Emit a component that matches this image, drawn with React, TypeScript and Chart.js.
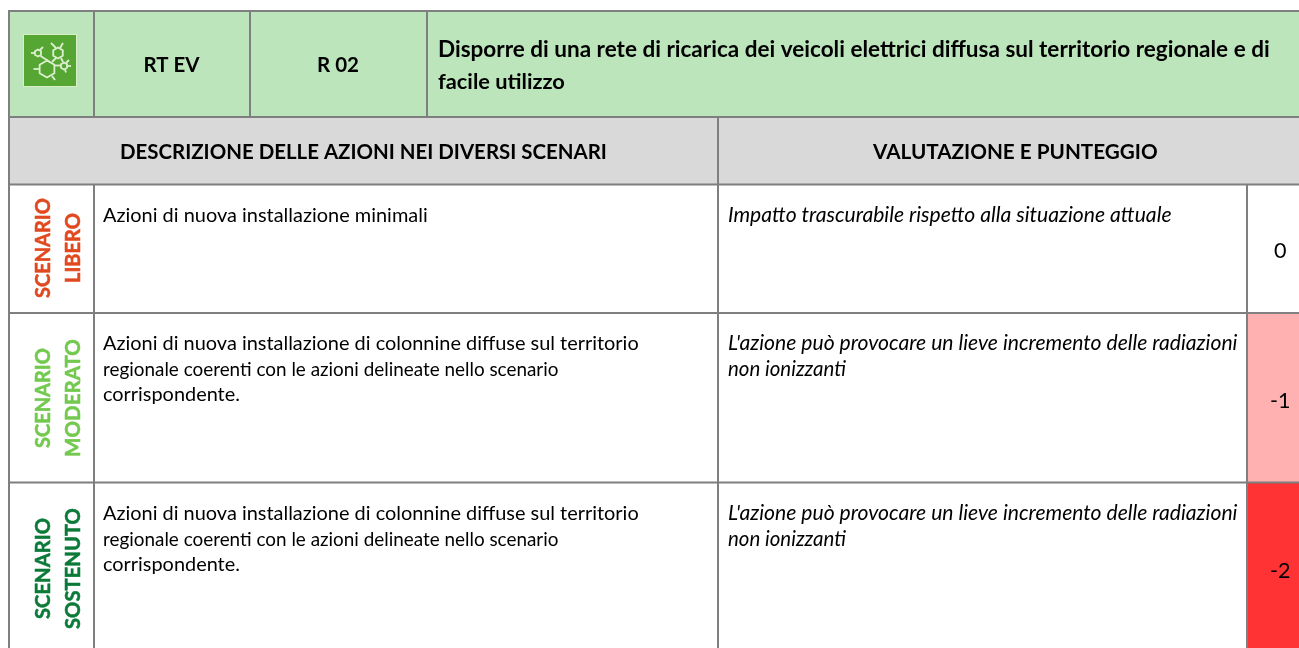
import React, { useEffect, useRef } from "react";
import { Chart, registerables } from "chart.js";

Chart.register(...registerables);

const FONT = "Lato";
const BORDER = "#7f7f7f";

const headerCode = "RT EV";
const headerRisk = "R 02";
const headerTitle = [
  "Disporre di una rete di ricarica dei veicoli elettrici diffusa sul territorio regionale e di",
  "facile utilizzo",
];
const sectionLeft = "DESCRIZIONE DELLE AZIONI NEI DIVERSI SCENARI";
const sectionRight = "VALUTAZIONE E PUNTEGGIO";
const scenarioNames = [
  ["SCENARIO", "LIBERO"],
  ["SCENARIO", "MODERATO"],
  ["SCENARIO", "SOSTENUTO"],
];
const scenarioColors = ["#e0491f", "#72c94e", "#0b7a38"];
const actionLines = [
  ["Azioni di nuova installazione minimali"],
  [
    "Azioni di nuova installazione di colonnine diffuse sul territorio",
    "regionale coerenti con le azioni delineate nello scenario",
    "corrispondente.",
  ],
  [
    "Azioni di nuova installazione di colonnine diffuse sul territorio",
    "regionale coerenti con le azioni delineate nello scenario",
    "corrispondente.",
  ],
];
const evalLines = [
  ["Impatto trascurabile rispetto alla situazione attuale"],
  ["L'azione può provocare un lieve incremento delle radiazioni", "non ionizzanti"],
  ["L'azione può provocare un lieve incremento delle radiazioni", "non ionizzanti"],
];
const scores = ["0", "-1", "-2"];
const scoreColors = ["#ffffff", "#ffb0b0", "#ff3333"];

// table layout, in the scale's units
const X = { left: 9, code: 94, risk: 250, title: 427, split: 718, score: 1247, right: 1299 };
const Y = { top: 11, head: 117, sect: 184.5, r1: 313, r2: 482.5, bottom: 648 };

const fills = [
  { x0: X.left, x1: X.right, y0: Y.top, y1: Y.head, c: "#bde5bc" },
  { x0: X.left, x1: X.right, y0: Y.head, y1: Y.sect, c: "#d9d9d9" },
  { x0: X.score, x1: X.right, y0: Y.sect, y1: Y.r1, c: scoreColors[0] },
  { x0: X.score, x1: X.right, y0: Y.r1, y1: Y.r2, c: scoreColors[1] },
  { x0: X.score, x1: X.right, y0: Y.r2, y1: Y.bottom, c: scoreColors[2] },
];

const gridSegments = [
  [X.left, Y.top, X.right, Y.top],
  [X.left, Y.head, X.right, Y.head],
  [X.left, Y.sect, X.right, Y.sect],
  [X.left, Y.r1, X.right, Y.r1],
  [X.left, Y.r2, X.right, Y.r2],
  [X.left, Y.top, X.left, Y.bottom],
  [X.code, Y.top, X.code, Y.head],
  [X.risk, Y.top, X.risk, Y.head],
  [X.title, Y.top, X.title, Y.head],
  [X.code, Y.sect, X.code, Y.bottom],
  [X.split, Y.head, X.split, Y.bottom],
  [X.score, Y.sect, X.score, Y.bottom],
];

type T = { s: string; x: number; y: number; w: number; weight?: string; style?: string; color?: string; rot?: boolean };

const texts: T[] = [
  { s: headerCode, x: 143.5, y: 71.5, w: 56, weight: "bold" },
  { s: headerRisk, x: 317, y: 71.5, w: 42, weight: "bold" },
  { s: headerTitle[0], x: 438, y: 57, w: 832, weight: "bold" },
  { s: headerTitle[1], x: 438, y: 89, w: 127, weight: "bold" },
  { s: sectionLeft, x: 120, y: 158.5, w: 487, weight: "bold" },
  { s: sectionRight, x: 873, y: 158.5, w: 285, weight: "bold" },
  { s: actionLines[0][0], x: 103, y: 221.5, w: 325 },
  { s: actionLines[1][0], x: 103, y: 350, w: 536 },
  { s: actionLines[1][1], x: 103, y: 375.5, w: 456 },
  { s: actionLines[1][2], x: 103, y: 401, w: 137 },
  { s: actionLines[2][0], x: 103, y: 520, w: 536 },
  { s: actionLines[2][1], x: 103, y: 545.5, w: 456 },
  { s: actionLines[2][2], x: 103, y: 571, w: 137 },
  { s: evalLines[0][0], x: 728, y: 221.5, w: 444, style: "italic" },
  { s: evalLines[1][0], x: 728, y: 350, w: 510, style: "italic" },
  { s: evalLines[1][1], x: 728, y: 375.5, w: 118, style: "italic" },
  { s: evalLines[2][0], x: 728, y: 520, w: 510, style: "italic" },
  { s: evalLines[2][1], x: 728, y: 545.5, w: 118, style: "italic" },
  { s: scores[0], x: 1274, y: 258, w: 12.5 },
  { s: scores[1], x: 1270, y: 408, w: 20.5 },
  { s: scores[2], x: 1270, y: 578, w: 20.5 },
  { s: scenarioNames[0][0], x: 50, y: 298, w: 100, weight: "bold", color: scenarioColors[0], rot: true },
  { s: scenarioNames[0][1], x: 80, y: 283, w: 70, weight: "bold", color: scenarioColors[0], rot: true },
  { s: scenarioNames[1][0], x: 50, y: 448, w: 100, weight: "bold", color: scenarioColors[1], rot: true },
  { s: scenarioNames[1][1], x: 80, y: 457, w: 118, weight: "bold", color: scenarioColors[1], rot: true },
  { s: scenarioNames[2][0], x: 50, y: 619, w: 101, weight: "bold", color: scenarioColors[2], rot: true },
  { s: scenarioNames[2][1], x: 80, y: 629, w: 121, weight: "bold", color: scenarioColors[2], rot: true },
];

// molecule glyph, in the scale's units
const iconBox = { x0: 23.5, y0: 34.5, x1: 76.5, y1: 86.5 };
const iconRings = [
  { x: 47, y: 69, r: 8.5 },
  { x: 58, y: 53, r: 5.5 },
  { x: 38, y: 53, r: 3.5 },
  { x: 64, y: 66, r: 3.5 },
];
const iconBonds = [
  [31, 53, 34.5, 53], [40, 50, 43, 47], [40.5, 56, 50, 62],
  [52, 62, 56, 58], [56, 48, 51, 43], [60, 48, 63, 43],
  [61, 58, 63, 62], [66, 63, 69, 60], [67.5, 66, 71, 66], [65, 69.5, 66, 72.5],
  [39.5, 69, 33.5, 69], [52, 76, 55, 80], [55, 65.5, 60.5, 65.5],
];

const tablePlugin = {
  id: "tableCells",
  beforeDatasetsDraw(chart: any) {
    const { ctx, scales } = chart;
    const px = (v: number) => scales.x.getPixelForValue(v);
    const py = (v: number) => scales.y.getPixelForValue(v);
    ctx.save();
    ctx.fillStyle = "#ffffff";
    ctx.fillRect(0, 0, chart.width, chart.height);
    for (const f of fills) {
      ctx.fillStyle = f.c;
      ctx.fillRect(px(f.x0), py(f.y0), px(f.x1) - px(f.x0), py(f.y1) - py(f.y0));
    }
    ctx.restore();
  },
  afterDatasetsDraw(chart: any) {
    const { ctx, scales } = chart;
    const px = (v: number) => scales.x.getPixelForValue(v);
    const py = (v: number) => scales.y.getPixelForValue(v);
    ctx.save();
    // icon
    ctx.fillStyle = "#56a633";
    ctx.strokeStyle = "#d8efc8";
    ctx.lineWidth = 1;
    ctx.fillRect(px(iconBox.x0), py(iconBox.y0), iconBox.x1 - iconBox.x0, iconBox.y1 - iconBox.y0);
    ctx.strokeRect(px(iconBox.x0), py(iconBox.y0), iconBox.x1 - iconBox.x0, iconBox.y1 - iconBox.y0);
    ctx.strokeStyle = "#dcf0d0";
    ctx.lineWidth = 1.8;
    for (const r of iconRings) {
      ctx.beginPath();
      for (let i = 0; i < 6; i++) {
        const a = (Math.PI / 3) * i + Math.PI / 6;
        const hx = px(r.x) + r.r * Math.cos(a);
        const hy = py(r.y) + r.r * Math.sin(a);
        if (i === 0) ctx.moveTo(hx, hy);
        else ctx.lineTo(hx, hy);
      }
      ctx.closePath();
      ctx.stroke();
    }
    for (const b of iconBonds) {
      ctx.beginPath();
      ctx.moveTo(px(b[0]), py(b[1]));
      ctx.lineTo(px(b[2]), py(b[3]));
      ctx.stroke();
    }
    // text, sized so that each line has its measured length
    ctx.textBaseline = "alphabetic";
    ctx.textAlign = "left";
    for (const t of texts) {
      const prefix = `${t.style || "normal"} ${t.weight || "normal"}`;
      ctx.font = `${prefix} 100px ${FONT}`;
      const size = (100 * t.w) / ctx.measureText(t.s).width;
      ctx.font = `${prefix} ${size}px ${FONT}`;
      ctx.fillStyle = t.color || "#000000";
      ctx.save();
      ctx.translate(px(t.x), py(t.y));
      if (t.rot) {
        ctx.rotate(-Math.PI / 2);
        ctx.strokeStyle = ctx.fillStyle;
        ctx.lineWidth = 0.5;
        ctx.strokeText(t.s, 0, 0);
      }
      ctx.fillText(t.s, 0, 0);
      ctx.restore();
    }
    ctx.restore();
  },
};

export default function App() {
  const ref = useRef<HTMLCanvasElement | null>(null);
  useEffect(() => {
    document.body.style.margin = "0";
    document.body.style.overflow = "hidden";
    const gridData: any[] = [];
    for (const s of gridSegments) {
      gridData.push({ x: s[0], y: s[1] }, { x: s[2], y: s[3] }, { x: null, y: null });
    }
    const chart = new Chart(ref.current as HTMLCanvasElement, {
      type: "line",
      data: {
        datasets: [
          {
            data: gridData,
            borderColor: BORDER,
            borderWidth: 2,
            pointRadius: 0,
            spanGaps: false,
            tension: 0,
            borderCapStyle: "square",
          } as any,
        ],
      },
      options: {
        responsive: false,
        animation: false,
        layout: { padding: 0 },
        plugins: { legend: { display: false }, tooltip: { enabled: false }, title: { display: false } },
        scales: {
          x: { type: "linear", min: 0, max: 1299, display: false },
          y: { type: "linear", min: 0, max: 648, reverse: true, display: false },
        },
      },
      plugins: [tablePlugin],
    } as any);
    return () => chart.destroy();
  }, []);
  return (
    <div style={{ position: "absolute", left: 0, top: 0, width: 1299, height: 648 }}>
      <canvas ref={ref} width={1299} height={648} style={{ display: "block" }} />
    </div>
  );
}
